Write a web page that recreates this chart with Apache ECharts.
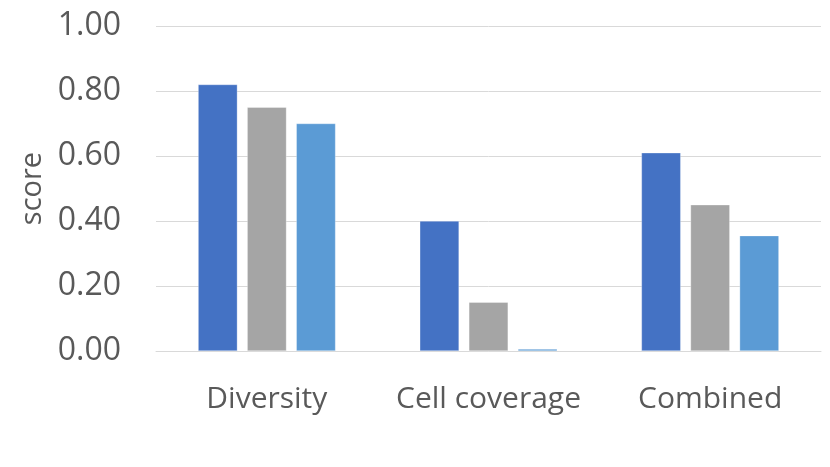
<!DOCTYPE html>
<html>
<head>
<meta charset="utf-8">
<script src="https://cdn.jsdelivr.net/npm/echarts@6/dist/echarts.min.js"></script>
<style>
  html, body { margin: 0; padding: 0; background: #fff; }
  #chart { width: 830px; height: 467px; }
</style>
</head>
<body>
<div id="chart"></div>
<script>
var categories = ['Diversity', 'Cell coverage', 'Combined'];
var seriesA = [0.82, 0.40, 0.61];
var seriesB = [0.75, 0.15, 0.45];
var seriesC = [0.70, 0.006, 0.355];
var yTicks = [0, 0.2, 0.4, 0.6, 0.8, 1.0];

var chart = echarts.init(document.getElementById('chart'));

function barSeries(name, data, color) {
  return {
    name: name,
    type: 'bar',
    data: data,
    barGap: '25%',
    barCategoryGap: '38%',
    itemStyle: {
      color: color,
      borderColor: 'rgba(255,255,255,0.6)',
      borderWidth: 0.5
    }
  };
}

var option = {
  animation: false,
  textStyle: { fontFamily: 'Open Sans' },
  grid: {
    left: 156,
    right: 9,
    top: 26,
    bottom: 116
  },
  xAxis: {
    type: 'category',
    data: categories,
    axisLine: { show: true, lineStyle: { color: '#d9d9d9', width: 1 } },
    axisTick: { show: false },
    axisLabel: { color: '#595959', fontSize: 30, margin: 33, interval: 0 }
  },
  yAxis: {
    type: 'value',
    min: yTicks[0],
    max: yTicks[yTicks.length - 1],
    interval: 0.2,
    name: 'score',
    nameLocation: 'middle',
    nameGap: 108,
    nameTextStyle: { color: '#595959', fontSize: 29 },
    axisLine: { show: false },
    axisTick: { show: false },
    splitLine: { lineStyle: { color: '#d9d9d9', width: 1 } },
    axisLabel: {
      color: '#595959',
      fontSize: 32,
      margin: 35,
      formatter: function (v) { return v.toFixed(2); }
    }
  },
  series: [
    barSeries('Series 1', seriesA, '#4472C4'),
    barSeries('Series 2', seriesB, '#A5A5A5'),
    barSeries('Series 3', seriesC, '#5B9BD5')
  ]
};

chart.setOption(option);
</script>
</body>
</html>
